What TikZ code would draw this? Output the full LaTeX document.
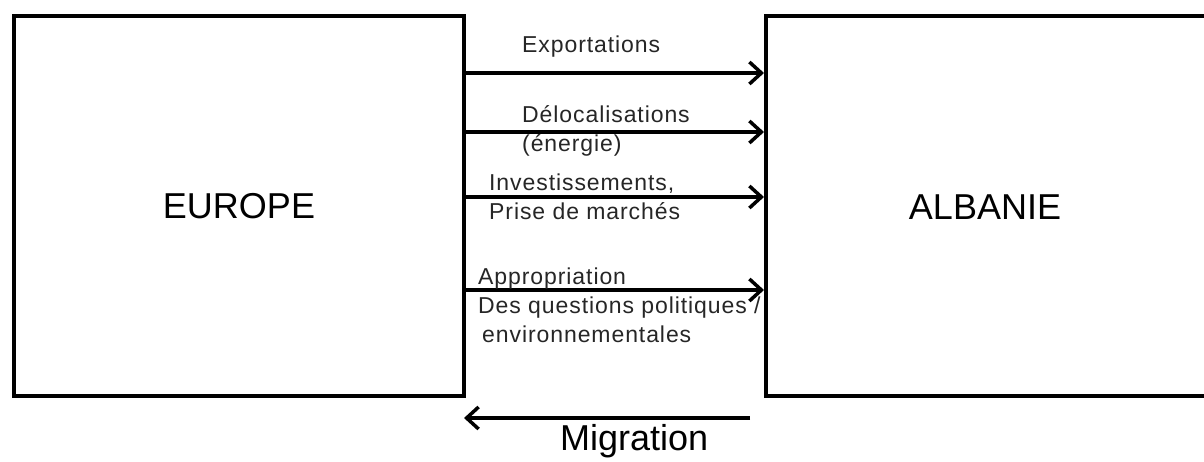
\documentclass[tikz,border=0pt]{standalone}
\usepackage{fontspec}
\setmainfont{Liberation Sans}
\newfontfamily\lblfont[LetterSpace=4]{Liberation Sans}
\usetikzlibrary{arrows.meta}
\begin{document}
\begin{tikzpicture}[x=1pt,y=-1pt,
  boxline/.style={draw=black,line width=4pt},
  flow/.style={draw=black,line width=4pt,-{Straight Barb[length=12pt,width=22pt,line width=3.5pt]}},
  lbl/.style={inner sep=0pt,align=left,font=\lblfont\fontsize{23}{29}\selectfont,text=black!85},
  big/.style={inner sep=0pt,font=\fontsize{36}{40}\selectfont}]
\useasboundingbox (0,0) rectangle (1204,461);
\node[boxline,minimum width=450pt,minimum height=380pt,anchor=north west,inner sep=0pt] (eu) at (12,14) {};
\node[big] at (eu.center) {EUROPE};
\node[boxline,minimum width=460pt,minimum height=380pt,anchor=north west,inner sep=0pt] (al) at (764,14) {};
\node[big] at (985,207) {ALBANIE};
\coordinate (a1s) at (462,73);  \coordinate (a1e) at (764,73);
\coordinate (a2s) at (462,132); \coordinate (a2e) at (764,132);
\coordinate (a3s) at (462,197); \coordinate (a3e) at (764,197);
\coordinate (a4s) at (462,290); \coordinate (a4e) at (764,290);
\coordinate (ms) at (750,418);  \coordinate (me) at (464,418);
\draw[flow] (a1s) -- (a1e);
\draw[flow] (a2s) -- (a2e);
\draw[flow] (a3s) -- (a3e);
\draw[flow] (a4s) -- (a4e);
\draw[flow] (ms) -- (me);
\node[lbl,anchor=west] (t1) at (522,47) {Exportations};
\node[lbl,anchor=west] (t2) at (522,131) {Délocalisations\\(énergie)};
\node[lbl,anchor=west] (t3) at (489,197) {Investissements,\\Prise de marchés};
\node[lbl,anchor=west] (t4) at (478,305) {Appropriation\\Des questions politiques /\\\hspace*{4pt}environnementales};
\node[big,anchor=west] (mig) at (560,441) {Migration};
\end{tikzpicture}
\end{document}
